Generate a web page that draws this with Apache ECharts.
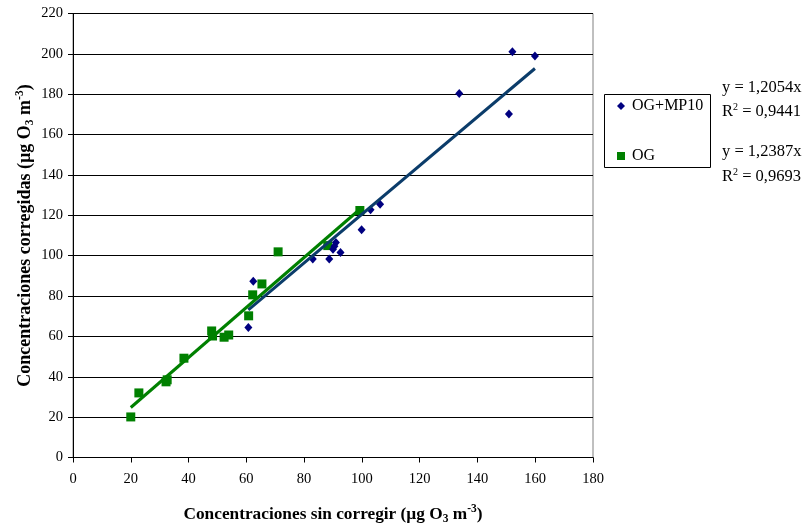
<!DOCTYPE html>
<html>
<head>
<meta charset="utf-8">
<script src="https://cdn.jsdelivr.net/npm/echarts@6/dist/echarts.min.js"></script>
<style>html,body{margin:0;padding:0;background:#fff}#c{width:808px;height:524px}</style>
</head>
<body>
<div id="c"></div>
<script>
var seriesNames = ['OG+MP10', 'OG'];
var ogmp10X = [60.7, 62.4, 83.0, 88.7, 90.0, 90.5, 91.0, 92.6, 99.9, 103.0, 106.3, 133.7, 150.9, 152.1, 159.9];
var ogmp10Y = [64.4, 87.3, 98.3, 98.3, 103.2, 104.7, 106.5, 101.6, 112.8, 122.7, 125.5, 180.4, 170.2, 201.1, 198.9];
var ogX = [20.0, 22.8, 32.2, 32.6, 38.4, 48.0, 48.3, 52.3, 53.9, 60.8, 62.2, 65.4, 71.0, 88.2, 99.3];
var ogY = [20.1, 32.0, 37.5, 38.5, 49.2, 62.7, 60.2, 59.6, 60.7, 70.2, 80.6, 86.0, 101.9, 105.0, 122.4];
var slopes = [1.2054, 1.2387];
var r2 = ['0,9441', '0,9693'];
var slopeLabels = ['1,2054', '1,2387'];
var xTicks = {min: 0, max: 180, interval: 20};
var yTicks = {min: 0, max: 220, interval: 20};

function pairs(xs, ys) { return xs.map(function (x, i) { return [x, ys[i]]; }); }
function trend(xs, k) {
  var lo = Math.min.apply(null, xs), hi = Math.max.apply(null, xs);
  return [[lo, lo * k], [hi, hi * k]];
}

var serif = '"Liberation Serif", "DejaVu Serif", serif';
function nameRich(size) {
  return {
    b: {fontFamily: serif, fontSize: size, fontWeight: 'bold', color: '#000', lineHeight: 22, verticalAlign: 'middle'},
    sub: {fontFamily: serif, fontSize: 11.5, fontWeight: 'bold', color: '#000', lineHeight: 11, verticalAlign: 'bottom'},
    sup: {fontFamily: serif, fontSize: 11.5, fontWeight: 'bold', color: '#000', lineHeight: 11, verticalAlign: 'top'}
  };
}
var eqRich = {
  n: {font: '16.5px ' + serif, fill: '#000', lineHeight: 20, verticalAlign: 'middle'},
  s: {font: '10px ' + serif, fill: '#000', lineHeight: 10, verticalAlign: 'top'}
};
var chart = echarts.init(document.getElementById('c'));
chart.setOption({
  animation: false,
  backgroundColor: '#fff',
  textStyle: {fontFamily: serif, color: '#000'},
  grid: {left: 73, right: 215, top: 13.5, bottom: 66.5, containLabel: false, outerBoundsMode: 'none', show: true, borderColor: '#808080', borderWidth: 1, backgroundColor: 'transparent'},
  xAxis: {
    type: 'value', min: xTicks.min, max: xTicks.max, interval: xTicks.interval,
    axisLine: {show: true, onZero: false, lineStyle: {color: '#000', width: 1}},
    axisTick: {show: true, inside: false, length: 5, lineStyle: {color: '#000'}},
    axisLabel: {fontFamily: serif, fontSize: 14.5, color: '#000', margin: 14},
    splitLine: {show: false},
    name: '{b|Concentraciones sin corregir (µg O}{sub|3}{b| m}{sup|-3}{b|)}',
    nameLocation: 'middle', nameGap: 46,
    nameTextStyle: {rich: nameRich(17.3)}
  },
  yAxis: {
    type: 'value', min: yTicks.min, max: yTicks.max, interval: yTicks.interval,
    axisLine: {show: true, onZero: false, lineStyle: {color: '#000', width: 1}},
    axisTick: {show: true, inside: false, length: 5, lineStyle: {color: '#000'}},
    axisLabel: {fontFamily: serif, fontSize: 14.5, color: '#000', margin: 10},
    splitLine: {show: true, lineStyle: {color: '#000', width: 1}},
    name: '{b|Concentraciones corregidas (µg O}{sub|3}{b| m}{sup|-3}{b|)}',
    nameLocation: 'middle', nameGap: 37, nameRotate: 90, nameMoveOverlap: false,
    nameTextStyle: {rich: nameRich(18)}
  },
  legend: {
    orient: 'vertical', left: 617, top: 98, itemWidth: 8, itemHeight: 8, itemGap: 34,
    padding: 0,
    textStyle: {fontFamily: serif, fontSize: 16, color: '#000', padding: [0, 0, 0, 2]},
    data: [
      {name: seriesNames[0], icon: 'diamond', itemStyle: {color: '#000080', opacity: 1}},
      {name: seriesNames[1], icon: 'rect', itemStyle: {color: '#008000', opacity: 1}}
    ]
  },
  graphic: [
    {type: 'rect', shape: {x: 604.5, y: 94.5, width: 106, height: 73}, style: {fill: 'none', stroke: '#000', lineWidth: 1}, z: 100},
    {type: 'text', left: 722, top: 79, style: {text: 'y = ' + slopeLabels[0] + 'x', font: '16.5px ' + serif, fill: '#000'}},
    {type: 'text', left: 722, top: 102, style: {text: '{n|R}{s|2}{n| = ' + r2[0] + '}', rich: eqRich}},
    {type: 'text', left: 722, top: 143, style: {text: 'y = ' + slopeLabels[1] + 'x', font: '16.5px ' + serif, fill: '#000'}},
    {type: 'text', left: 722, top: 167, style: {text: '{n|R}{s|2}{n| = ' + r2[1] + '}', rich: eqRich}}
  ],
  series: [
    {name: seriesNames[0], type: 'scatter', symbol: 'diamond', symbolSize: [8, 9], itemStyle: {color: '#000080', opacity: 1}, data: pairs(ogmp10X, ogmp10Y), z: 3},
    {name: seriesNames[1], type: 'scatter', symbol: 'rect', symbolSize: 9, itemStyle: {color: '#008000', opacity: 1}, data: pairs(ogX, ogY), z: 2},
    {name: 'trend1', type: 'line', data: trend(ogmp10X, slopes[0]), symbol: 'none', lineStyle: {color: '#0b3c6a', width: 3}, z: 4, silent: true},
    {name: 'trend2', type: 'line', data: trend(ogX, slopes[1]), symbol: 'none', lineStyle: {color: '#008000', width: 3}, z: 5, silent: true}
  ]
});
</script>
</body>
</html>
